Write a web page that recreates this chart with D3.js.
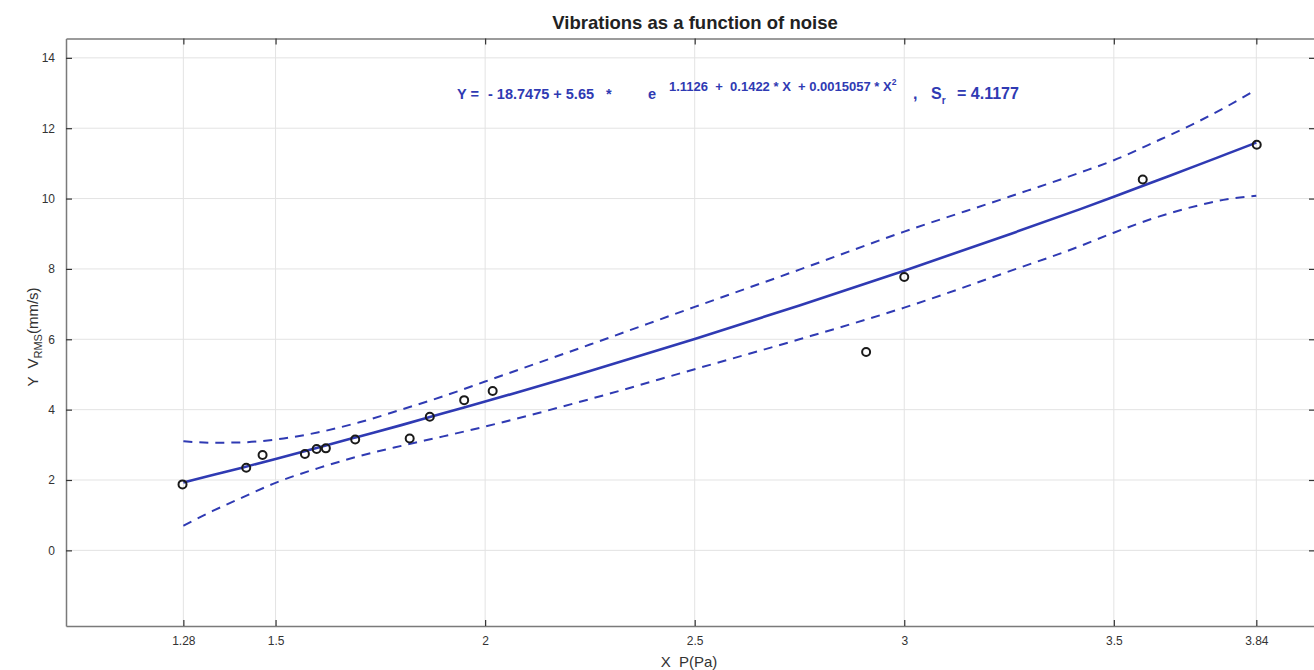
<!DOCTYPE html>
<html lang="en">
<head>
    <meta charset="UTF-8">
    <title>Vibrations as a function of noise</title>
    <script src="https://d3js.org/d3.v7.min.js"></script>
    <style>
        body { margin: 0; background: #fff; }
        text { font-family: "Liberation Sans", Arial, Helvetica, sans-serif; white-space: pre; }
    </style>
</head>
<body>
    <div id="chart"></div>

    <script>
        // measured points
        var pointX = [1.278, 1.43, 1.469, 1.57, 1.598, 1.62, 1.69, 1.82, 1.868, 1.95, 2.018, 2.909, 3.0, 3.569, 3.841];
        var pointY = [1.875, 2.35, 2.71, 2.74, 2.88, 2.90, 3.15, 3.18, 3.80, 4.27, 4.53, 5.64, 7.77, 10.54, 11.53];

        // fitted curve and confidence band
        var curveX = [1.28, 1.35, 1.42, 1.5, 1.6, 1.7, 1.8, 1.9, 2.0, 2.25, 2.5, 2.75, 3.0, 3.25, 3.42, 3.5, 3.6, 3.7, 3.77, 3.84];
        var fitY   = [1.93, 2.14, 2.35, 2.60, 2.92, 3.24, 3.56, 3.90, 4.23, 5.10, 6.01, 6.96, 7.95, 8.98, 9.70, 10.05, 10.50, 10.95, 11.27, 11.59];
        var upperY = [3.10, 3.06, 3.07, 3.15, 3.35, 3.64, 4.00, 4.38, 4.80, 5.85, 6.92, 7.98, 9.06, 10.05, 10.74, 11.09, 11.62, 12.18, 12.62, 13.10];
        var lowerY = [0.70, 1.12, 1.50, 1.92, 2.33, 2.68, 2.97, 3.24, 3.52, 4.30, 5.15, 6.00, 6.90, 7.93, 8.65, 9.03, 9.46, 9.80, 9.98, 10.08];

        var xTicks = [1.28, 1.5, 2, 2.5, 3, 3.5, 3.84];
        var yTicks = [0, 2, 4, 6, 8, 10, 12, 14];

        var width = 1314;
        var height = 670;
        var blue = "#2f3ab3";

        const svg = d3.select("#chart").append("svg")
            .attr("width", width)
            .attr("height", height);

        var x = d3.scaleLinear().domain([1.0, 3.98]).range([66, 1315]);
        var y = d3.scaleLinear().domain([-2.15, 14.55]).range([626, 38.5]);

        // grid
        svg.append("g").selectAll("line")
            .data(xTicks).enter().append("line")
            .attr("x1", d => x(d)).attr("x2", d => x(d))
            .attr("y1", y.range()[0]).attr("y2", y.range()[1])
            .attr("stroke", "#e3e3e3").attr("stroke-width", 1);
        svg.append("g").selectAll("line")
            .data(yTicks).enter().append("line")
            .attr("y1", d => y(d)).attr("y2", d => y(d))
            .attr("x1", x.range()[0]).attr("x2", x.range()[1])
            .attr("stroke", "#e3e3e3").attr("stroke-width", 1);

        // axes, ticks pointing inwards on all four sides
        function styleAxis(g) {
            g.select(".domain").attr("stroke", "#7a7a7a").attr("stroke-width", 1.5);
            g.selectAll(".tick line").attr("stroke", "#333").attr("stroke-width", 1.2);
            g.selectAll(".tick text").attr("fill", "#333").attr("font-size", 12)
                .style("font-family", "'Liberation Sans', Arial, sans-serif");
        }
        var fmt = d => String(d);

        svg.append("g").attr("transform", "translate(0," + y.range()[0] + ")")
            .call(d3.axisBottom(x).tickValues(xTicks).tickFormat(fmt).tickSize(-6).tickSizeOuter(0).tickPadding(10))
            .call(styleAxis);
        svg.append("g").attr("transform", "translate(0," + y.range()[1] + ")")
            .call(d3.axisTop(x).tickValues(xTicks).tickFormat("").tickSize(-6).tickSizeOuter(0))
            .call(styleAxis);
        svg.append("g").attr("transform", "translate(" + x.range()[0] + ",0)")
            .call(d3.axisLeft(y).tickValues(yTicks).tickFormat(fmt).tickSize(-6).tickSizeOuter(0).tickPadding(11))
            .call(styleAxis);
        svg.append("g").attr("transform", "translate(" + x.range()[1] + ",0)")
            .call(d3.axisRight(y).tickValues(yTicks).tickFormat("").tickSize(-6).tickSizeOuter(0))
            .call(styleAxis);

        // curves
        function curve(ys) {
            return d3.line()
                .x((d, i) => x(curveX[i]))
                .y(d => y(d))
                .curve(d3.curveMonotoneX)(ys);
        }
        svg.append("path").attr("d", curve(upperY))
            .attr("fill", "none").attr("stroke", blue).attr("stroke-width", 2)
            .attr("stroke-dasharray", "9,7");
        svg.append("path").attr("d", curve(lowerY))
            .attr("fill", "none").attr("stroke", blue).attr("stroke-width", 2)
            .attr("stroke-dasharray", "9,7");
        svg.append("path").attr("d", curve(fitY))
            .attr("fill", "none").attr("stroke", blue).attr("stroke-width", 2.6);

        // points
        svg.append("g").selectAll("circle")
            .data(pointX).enter().append("circle")
            .attr("cx", d => x(d))
            .attr("cy", (d, i) => y(pointY[i]))
            .attr("r", 4)
            .attr("fill", "none")
            .attr("stroke", "#1a1a1a")
            .attr("stroke-width", 2);

        // title and axis labels
        svg.append("text").attr("x", 695).attr("y", 29)
            .attr("text-anchor", "middle").attr("font-size", 18.5).attr("font-weight", "bold")
            .attr("fill", "#222").text("Vibrations as a function of noise");

        svg.append("text").attr("x", 689).attr("y", 667)
            .attr("text-anchor", "middle").attr("font-size", 15)
            .attr("fill", "#333").text("X  P(Pa)");

        var ylab = svg.append("text")
            .attr("transform", "translate(38,337) rotate(-90)")
            .attr("text-anchor", "middle").attr("font-size", 15).attr("fill", "#333");
        ylab.append("tspan").text("Y  V");
        ylab.append("tspan").attr("font-size", 11).attr("dy", 4).text("RMS");
        ylab.append("tspan").attr("dy", -4).text("(mm/s)");

        // equation
        var eq = svg.append("g").attr("fill", blue).attr("font-weight", "bold");
        eq.append("text").attr("x", 457).attr("y", 99).attr("font-size", 14.5).text("Y =");
        eq.append("text").attr("x", 488).attr("y", 99).attr("font-size", 14.5).text("- 18.7475 + 5.65");
        eq.append("text").attr("x", 606).attr("y", 99).attr("font-size", 14.5).text("*");
        eq.append("text").attr("x", 648).attr("y", 99).attr("font-size", 14.5).text("e");
        var ex = eq.append("text").attr("x", 669).attr("y", 91).attr("font-size", 13);
        ex.append("tspan").text("1.1126  +  0.1422 * X  + 0.0015057 * X");
        ex.append("tspan").attr("font-size", 8.5).attr("dy", -6).text("2");
        eq.append("text").attr("x", 913).attr("y", 99).attr("font-size", 16).text(",");
        var sr = eq.append("text").attr("x", 931).attr("y", 99).attr("font-size", 16);
        sr.append("tspan").text("S");
        sr.append("tspan").attr("font-size", 10).attr("dy", 5).text("r");
        eq.append("text").attr("x", 957).attr("y", 99).attr("font-size", 16).text("= 4.1177");
    </script>
</body>
</html>
